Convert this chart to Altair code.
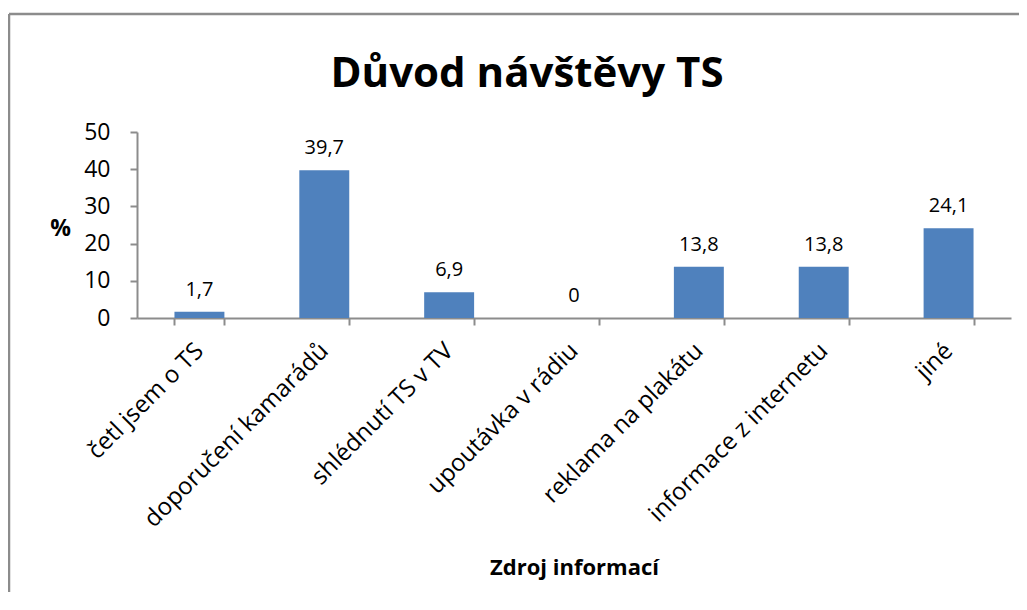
import altair as alt
import pandas as pd

categories = ["četl jsem o TS", "doporučení kamarádů", "shlédnutí TS v TV",
              "upoutávka v rádiu", "reklama na plakátu", "informace z internetu", "jiné"]
values = [1.7, 39.7, 6.9, 0, 13.8, 13.8, 24.1]

df = pd.DataFrame({"cat": categories, "v": values})

FONT = "Open Sans"
GRAY = "#8c8c8c"

base = alt.Chart(df).transform_calculate(
    lbl="replace(toString(datum.v), '.', ',')"
)

x = alt.X("cat:N", sort=categories,
          scale=alt.Scale(paddingInner=0.6, paddingOuter=0.3),
          axis=alt.Axis(title="Zdroj informací", labelAngle=-45, labelAlign="right",
                        labelBaseline="middle", labelPadding=22, tickBand="extent",
                        tickSize=7, labelFontSize=24, labelFont=FONT, labelColor="#000000",
                        labelOverlap=False,
                        titleFont=FONT, titleFontSize=22, titleFontWeight="bold",
                        titleColor="#000000", titleY=256, titleBaseline="alphabetic",
                        domainColor=GRAY, tickColor=GRAY, domainWidth=2, tickWidth=2,
                        labelLimit=400))
y = alt.Y("v:Q", scale=alt.Scale(domain=[0, 50]),
          axis=alt.Axis(title="%", values=[0, 10, 20, 30, 40, 50], grid=False,
                        labelOverlap=False, tickCount=6,
                        tickSize=7, labelPadding=20, labelFontSize=23, labelFont=FONT,
                        labelColor="#000000", titleAngle=0, titleX=-77, titleY=96,
                        titleAlign="center", titleBaseline="middle", titleFont=FONT,
                        titleFontSize=23, titleFontWeight="bold", titleColor="#000000",
                        domainColor=GRAY, tickColor=GRAY, domainWidth=2, tickWidth=2))

bars = base.mark_bar(color="#4F81BD").encode(x=x, y=y)
labels = base.mark_text(dy=-22, fontSize=20, font=FONT, color="#000000").encode(
    x=x, y=y, text="lbl:N")

frame_df = pd.DataFrame({"a": [0]})
top_line = alt.Chart(frame_df).mark_rule(color=GRAY, strokeWidth=2.5).encode(
    x=alt.value(-128), x2=alt.value(890), y=alt.value(-118))
left_line = alt.Chart(frame_df).mark_rule(color=GRAY, strokeWidth=2.5).encode(
    x=alt.value(-128), y=alt.value(-118), y2=alt.value(460))

chart = alt.layer(bars, labels, top_line, left_line).properties(
    width=874, height=186,
    title=alt.TitleParams("Důvod návštěvy TS", font=FONT, fontSize=42, fontWeight="bold",
                          color="#000000", anchor="middle", frame="group", dx=-47, dy=87),
    autosize=alt.AutoSizeParams(type="none"),
    padding={"left": 129, "top": 124, "right": 8, "bottom": 274},
).configure_view(stroke=None).configure_axisY(labelOverlap=False)

chart.save("out.html", embed_options={"renderer": "svg", "actions": False})
